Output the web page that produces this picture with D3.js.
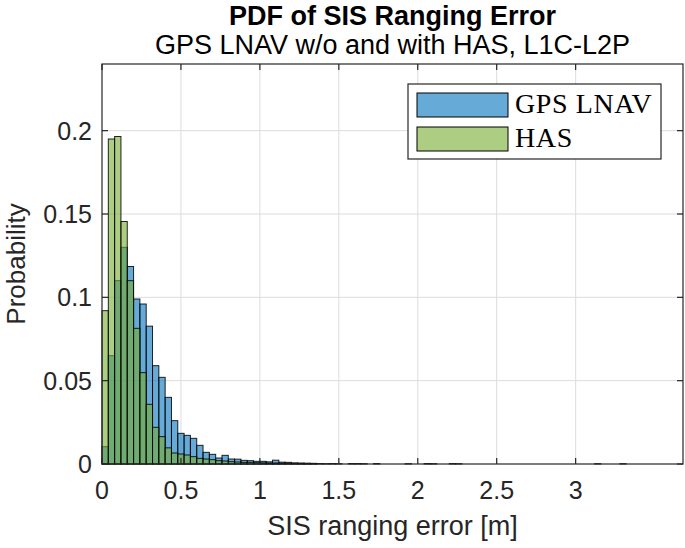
<!DOCTYPE html>
<html><head><meta charset="utf-8">
<script src="https://cdn.jsdelivr.net/npm/d3@7"></script>
<style>body{margin:0;background:#fff;} svg{display:block;}</style>
</head><body>
<script>
// ---- data ----
const binWidth = 0.04;
const gpsLnav = [0.0104,0.065,0.110,0.130,0.1185,0.099,0.096,0.0827,0.059,0.052,
  0.040,0.026,0.0184,0.0172,0.0154,0.0112,0.0070,0.0058,0.0036,0.0052,
  0.0030,0.0029,0.0022,0.0020,0.0016,0.0016,0.0013,0.0023,0.0011,0.0010,
  0.0007,0.0006,0.0005,0.0004,0.0003,0.0002,0.0003,0.0002,0,0.0003,
  0.0003,0.0002,0,0.0003,0,0,0,0,0.0002,0,
  0,0.0003,0.0002,0,0,0.0003,0.0002,0,0,0,
  0,0,0,0,0,0,0,0,0,0,
  0,0,0,0,0,0,0,0,0.0002,0,
  0,0,0.0002];
const has = [0.092,0.195,0.1965,0.1455,0.110,0.0814,0.0548,0.0358,0.022,0.0164,
  0.0097,0.0066,0.0060,0.0054,0.0044,0.0034,0.0030,0.0026,0.0020,0.0018,
  0.0014,0.0012,0.0010,0.0010,0.0008,0.0007,0.0006,0.0006,0.0005,0.0004,
  0.0003,0.0003,0.0002,0.0002];
const seriesNames = ["GPS LNAV", "HAS"];
const xTicks = [0,0.5,1,1.5,2,2.5,3];
const xTickLabels = ["0","0.5","1","1.5","2","2.5","3"];
const yTicks = [0,0.05,0.1,0.15,0.2];
const yTickLabels = ["0","0.05","0.1","0.15","0.2"];
const titleText = "PDF of SIS Ranging Error";
const subtitleText = "GPS LNAV w/o and with HAS, L1C-L2P";
const xLabel = "SIS ranging error [m]";
const yLabel = "Probability";

// ---- layout ----
const W = 685, H = 548;
const L = 102, R = 683, T = 64, B = 464;
const x = d3.scaleLinear().domain([0, 3.68]).range([L, R]);
const y = d3.scaleLinear().domain([0, 0.24]).range([B, T]);
const colors = ["#0072BD", "#77AC30"];
const axColor = "#262626";
const font = "'Liberation Sans', Arial, Helvetica, sans-serif";

const svg = d3.select("body").append("svg").attr("width", W).attr("height", H);

// grid
const g = svg.append("g");
g.selectAll(".gx").data(xTicks.filter(d => d > 0)).join("line")
  .attr("x1", d => x(d)).attr("x2", d => x(d)).attr("y1", T).attr("y2", B)
  .attr("stroke", "#dcdcdc").attr("stroke-width", 1);
g.selectAll(".gy").data(yTicks.filter(d => d > 0)).join("line")
  .attr("x1", L).attr("x2", R).attr("y1", d => y(d)).attr("y2", d => y(d))
  .attr("stroke", "#dcdcdc").attr("stroke-width", 1);

// histograms
[gpsLnav, has].forEach((vals, si) => {
  svg.append("g").selectAll("rect").data(vals).join("rect")
    .attr("x", (d, i) => x(i * binWidth))
    .attr("width", (d, i) => x((i + 1) * binWidth) - x(i * binWidth))
    .attr("y", d => y(d))
    .attr("height", d => y(0) - y(d))
    .attr("fill", colors[si]).attr("fill-opacity", 0.6)
    .attr("stroke", "#000").attr("stroke-width", 1).attr("stroke-opacity", 0.85);
});

// axes box
svg.append("rect").attr("x", L).attr("y", T).attr("width", R - L).attr("height", B - T)
  .attr("fill", "none").attr("stroke", axColor).attr("stroke-width", 1.2);

// ticks (inward, mirrored)
const tl = 6;
const tk = svg.append("g").attr("stroke", axColor).attr("stroke-width", 1.2);
xTicks.forEach(d => {
  tk.append("line").attr("x1", x(d)).attr("x2", x(d)).attr("y1", B).attr("y2", B - tl);
  tk.append("line").attr("x1", x(d)).attr("x2", x(d)).attr("y1", T).attr("y2", T + tl);
});
yTicks.forEach(d => {
  tk.append("line").attr("x1", L).attr("x2", L + tl).attr("y1", y(d)).attr("y2", y(d));
  tk.append("line").attr("x1", R).attr("x2", R - tl).attr("y1", y(d)).attr("y2", y(d));
});

// tick labels
svg.append("g").selectAll("text").data(xTicks).join("text")
  .attr("x", d => x(d)).attr("y", 499)
  .attr("text-anchor", "middle").attr("font-family", font).attr("font-size", 25)
  .attr("fill", axColor).text((d, i) => xTickLabels[i]);
svg.append("g").selectAll("text").data(yTicks).join("text")
  .attr("x", 92).attr("y", d => y(d)).attr("dy", "0.36em")
  .attr("text-anchor", "end").attr("font-family", font).attr("font-size", 25)
  .attr("fill", axColor).text((d, i) => yTickLabels[i]);

// axis labels
svg.append("text").attr("x", (L + R) / 2).attr("y", 535)
  .attr("text-anchor", "middle").attr("font-family", font).attr("font-size", 27)
  .attr("fill", axColor).text(xLabel);
svg.append("text").attr("transform", `translate(25,${(T + B) / 2}) rotate(-90)`)
  .attr("text-anchor", "middle").attr("font-family", font).attr("font-size", 26)
  .attr("fill", axColor).text(yLabel);

// titles
svg.append("text").attr("x", (L + R) / 2).attr("y", 25)
  .attr("text-anchor", "middle").attr("font-family", font).attr("font-size", 27)
  .attr("font-weight", "bold").attr("fill", "#000").text(titleText);
svg.append("text").attr("x", (L + R) / 2).attr("y", 54)
  .attr("text-anchor", "middle").attr("font-family", font).attr("font-size", 27)
  .attr("fill", "#000").text(subtitleText);

// legend
const lg = svg.append("g");
lg.append("rect").attr("x", 408).attr("y", 84).attr("width", 253).attr("height", 75)
  .attr("fill", "#fff").attr("stroke", axColor).attr("stroke-width", 1.2);
seriesNames.forEach((name, i) => {
  const yy = 93 + i * 34;
  lg.append("rect").attr("x", 417).attr("y", yy).attr("width", 91).attr("height", 24)
    .attr("fill", colors[i]).attr("fill-opacity", 0.6)
    .attr("stroke", "#000").attr("stroke-width", 1);
  lg.append("text").attr("x", 515).attr("y", yy + 20)
    .attr("font-family", "'Liberation Serif', 'Times New Roman', serif")
    .attr("font-size", 28).attr("letter-spacing", 0.6).attr("fill", "#000").text(name);
});
</script>
</body></html>
